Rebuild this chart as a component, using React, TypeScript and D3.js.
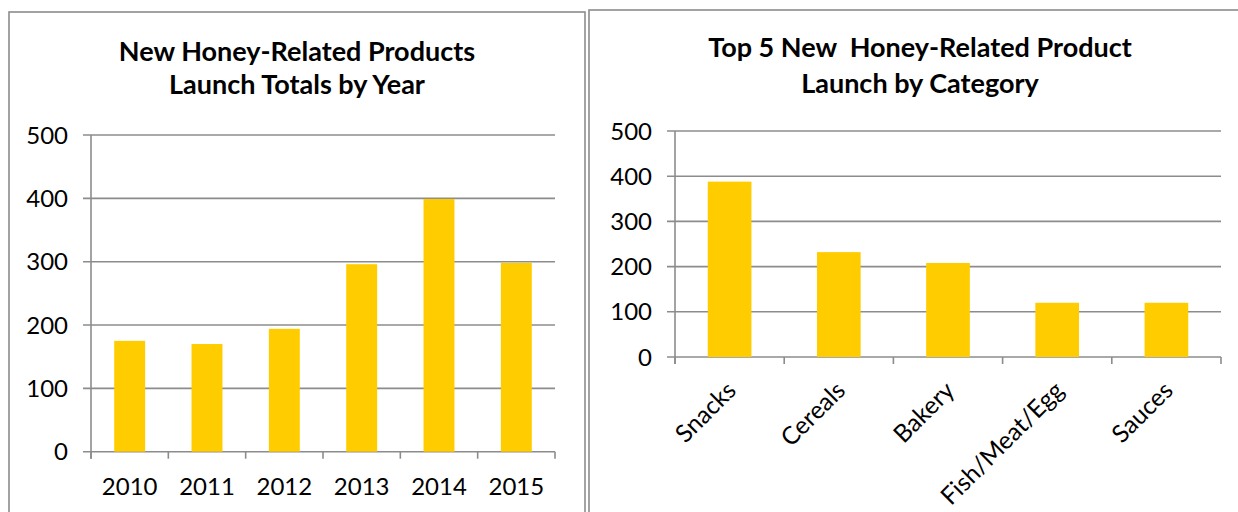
import React from 'react';
import * as d3 from 'd3';

const years = ['2010', '2011', '2012', '2013', '2014', '2015'];
const yearValues = [175, 170, 194, 296, 399, 298];
const categories = ['Snacks', 'Cereals', 'Bakery', 'Fish/Meat/Egg', 'Sauces'];
const categoryValues = [388, 232, 208, 120, 120];
const yTicks = [0, 100, 200, 300, 400, 500];
const leftTitle = ['New Honey-Related Products', 'Launch Totals by Year'];
const rightTitle = ['Top 5 New  Honey-Related Product', 'Launch by Category'];

const FONT = 'Lato, "Open Sans", sans-serif';
const BAR = '#FFCC00';
const GRID = '#8C8C8C';

type PanelProps = {
  labels: string[];
  values: number[];
  title: string[];
  x0: number;
  x1: number;
  y0: number;
  y1: number;
  titleX: number;
  titleY: number[];
  rotate: boolean;
};

function Panel({ labels, values, title, x0, x1, y0, y1, titleX, titleY, rotate }: PanelProps) {
  const x = d3.scaleBand<string>().domain(labels).range([x0, x1]).padding(0);
  const y = d3.scaleLinear().domain([0, 500]).range([y0, y1]);
  const bw = x.bandwidth();
  const barW = bw * 0.4;
  const boundaries = labels.map((l) => x(l) as number).concat([x1]);
  return (
    <g>
      {title.map((t, i) => (
        <text
          key={i}
          x={titleX}
          y={titleY[i]}
          textAnchor="middle"
          fontFamily={FONT}
          fontWeight="bold"
          fontSize={27}
          style={{ whiteSpace: 'pre' }}
          fill="#000"
        >
          {t}
        </text>
      ))}
      {yTicks.map((t) => (
        <g key={t}>
          <line x1={x0 - 8} x2={x1} y1={y(t)} y2={y(t)} stroke={GRID} strokeWidth={1.6} />
          <text
            x={x0 - 23}
            y={y(t)}
            dy="0.36em"
            textAnchor="end"
            fontFamily={FONT}
            fontSize={24}
            fill="#000"
          >
            {t}
          </text>
        </g>
      ))}
      <line x1={x0} x2={x0} y1={y(500)} y2={y(0) + 7} stroke={GRID} strokeWidth={1.6} />
      {boundaries.map((b, i) => (
        <line key={i} x1={b} x2={b} y1={y(0)} y2={y(0) + 7} stroke={GRID} strokeWidth={1.6} />
      ))}
      {labels.map((l, i) => {
        const cx = (x(l) as number) + bw / 2;
        return (
          <rect
            key={l}
            x={cx - barW / 2}
            width={barW}
            y={y(values[i])}
            height={y(0) - y(values[i])}
            fill={BAR}
          />
        );
      })}
      {labels.map((l) => {
        const cx = (x(l) as number) + bw / 2;
        if (rotate) {
          return (
            <text
              key={l}
              transform={`translate(${cx + 8},${y(0) + 35}) rotate(-45)`}
              textAnchor="end"
              fontFamily={FONT}
              fontSize={24.5}
              fill="#000"
            >
              {l}
            </text>
          );
        }
        return (
          <text key={l} x={cx} y={y(0) + 43} textAnchor="middle" fontFamily={FONT} fontSize={24} fill="#000">
            {l}
          </text>
        );
      })}
    </g>
  );
}

export default function App() {
  return (
    <div style={{ position: 'fixed', left: 0, top: 0 }}>
      <svg width={1238} height={512} style={{ display: 'block', background: '#fff' }}>
        <rect x={0} y={0} width={1238} height={512} fill="#fff" />
        <rect x={9} y={12} width={576} height={520} fill="none" stroke="#8C8C8C" strokeWidth={1.6} />
        <rect x={589} y={10} width={700} height={520} fill="none" stroke="#8C8C8C" strokeWidth={1.6} />
        <Panel
          labels={years}
          values={yearValues}
          title={leftTitle}
          x0={91}
          x1={555}
          y0={451.7}
          y1={135}
          titleX={297}
          titleY={[61, 94]}
          rotate={false}
        />
        <Panel
          labels={categories}
          values={categoryValues}
          title={rightTitle}
          x0={675}
          x1={1221}
          y0={357}
          y1={131}
          titleX={920}
          titleY={[57, 93]}
          rotate={true}
        />
      </svg>
    </div>
  );
}
